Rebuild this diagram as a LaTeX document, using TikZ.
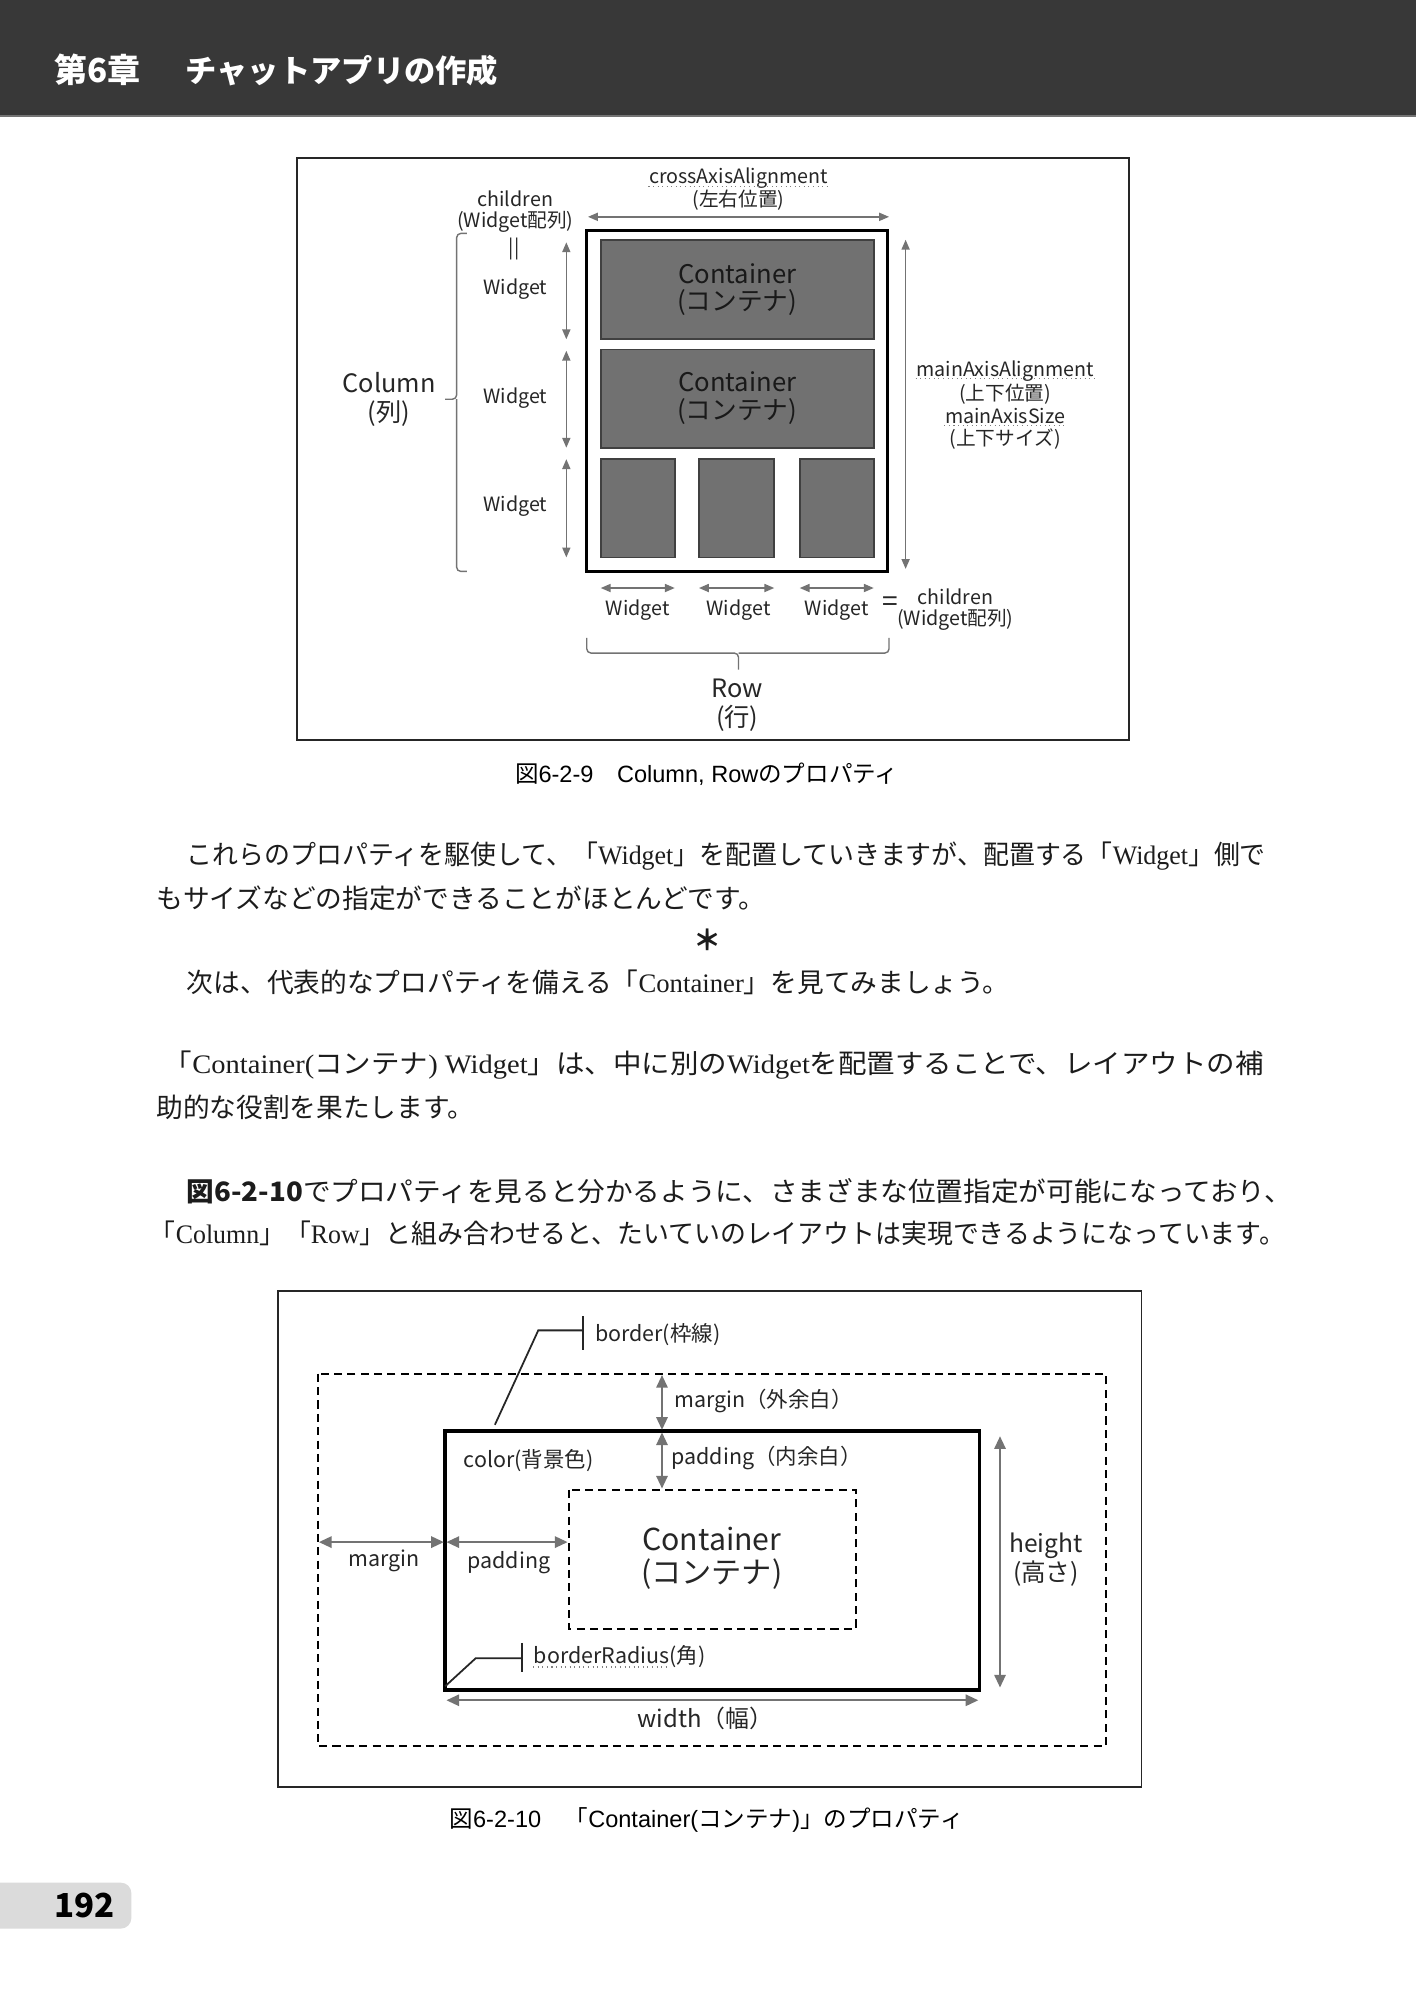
\documentclass[tikz,border=0pt]{standalone}
\usepackage{fontspec}
\usepackage{graphicx}
\setmainfont{Noto Sans CJK JP}
\newfontfamily\latserif{Liberation Serif}
\newfontfamily\latsans{Liberation Sans}
\usetikzlibrary{arrows.meta}

\definecolor{headgray}{HTML}{383838}
\definecolor{boxgray}{HTML}{717171}
\definecolor{inkgray}{HTML}{1C1C1C}
\newcommand\lat[1]{{\latserif #1}}
\newcommand\lsf[1]{{\latsans #1}}

\tikzset{
  figlbl/.style={font=\fontsize{5.6}{6.1}\selectfont, text=black!85, inner sep=0pt, align=center},
  biglbl/.style={font=\fontsize{7.2}{8.4}\selectfont, text=black!85, inner sep=0pt, align=center},
  boxlbl/.style={font=\fontsize{7.3}{7.8}\selectfont, text=black!90, inner sep=0pt, align=center},
  boxlbltwo/.style={font=\fontsize{8.6}{9.4}\selectfont, text=black!85, inner sep=0pt, align=center},
  lbltwo/.style={font=\fontsize{6.1}{7.6}\selectfont, text=black!85, inner sep=0pt, align=center},
  caplbl/.style={font=\fontsize{6.7}{8}\selectfont, text=black, inner sep=0pt},
  bodyline/.style={font=\fontsize{7.6}{9}\selectfont, text=inkgray, inner sep=0pt, anchor=west},
  framebox/.style={draw=black!85, line width=0.5pt},
  cbox/.style={draw=black!75, fill=boxgray, line width=0.5pt},
  dimarrow/.style={draw=black!55, line width=0.4pt, {Triangle[length=2.8pt,width=2.3pt]}-{Triangle[length=2.8pt,width=2.3pt]}},
  dimarrowtwo/.style={draw=black!55, line width=0.6pt, {Triangle[length=3.6pt,width=3.2pt]}-{Triangle[length=3.6pt,width=3.2pt]}},
  bracket/.style={draw=black!55, line width=0.4pt, rounded corners=1.2pt},
  dashbox/.style={draw=black, line width=0.6pt, dash pattern=on 2.3pt off 1.5pt},
  leader/.style={draw=black!85, line width=0.5pt},
  squiggle/.style={draw=black!50, line width=0.3pt, densely dotted},
}

\begin{document}
\begin{tikzpicture}[x=0.0127551cm, y=-0.0127551cm]
\useasboundingbox (0,0) rectangle (1110,1568);
\fill[white] (0,0) rectangle (1110,1568);

% ---------- header ----------
\fill[headgray] (0,0) rectangle (1110,91);
\draw[black!55, line width=0.8pt] (0,91) -- (1110,91);
\node[anchor=west, inner sep=0pt, text=white, font=\bfseries\fontsize{9.4}{10}\selectfont] (chapno) at (42,55) {第6章};
\node[anchor=west, inner sep=0pt, text=white, font=\bfseries\fontsize{8.9}{10}\selectfont] (chaptitle) at (145,55) {チャットアプリの作成};

% ---------- figure 6-2-9 ----------
\draw[framebox] (233,124) rectangle (885,580);

\node[figlbl] (crossen) at (579,140) {crossAxisAlignment};
\node[figlbl] (crossjp) at (579,157) {(左右位置)};
\draw[squiggle] ([yshift=-0.6pt]crossen.base west) -- ([yshift=-0.6pt]crossen.base east);
\coordinate (crossL) at (461,170);
\coordinate (crossR) at (697,170);
\draw[dimarrow] (crossL) -- (crossR);

\node[figlbl] (colchildren) at (404,166) {children\\(Widget配列)};
\node[figlbl] (coleq) at (403,195) {||};

% column bracket
\coordinate (colbtop) at (366,183);
\coordinate (colbmid) at (349,313);
\coordinate (colbbot) at (366,448);
\draw[bracket] (colbtop) -| (358,313) -- (colbmid);
\draw[bracket] (colbbot) -| (358,313);
\node[biglbl] (column) at (305,313) {Column\\(列)};

% widget labels and arrows
\foreach \ya/\yb/\yc [count=\i] in {190/266/227, 275/351/312, 360/437/397} {
  \coordinate (colA\i) at (444,\ya);
  \coordinate (colB\i) at (444,\yb);
  \draw[dimarrow] (colA\i) -- (colB\i);
  \node[figlbl] (colw\i) at (404,\yc) {Widget};
}

% column container and children
\draw[black, line width=0.85pt] (460,181) rectangle (696,448);
\draw[cbox] (471,188) rectangle (685,266);
\draw[cbox] (471,274) rectangle (685,351);
\draw[cbox] (471,360) rectangle (529,437);
\draw[cbox] (548,360) rectangle (607,437);
\draw[cbox] (627,360) rectangle (685,437);
\node[boxlbl] (cont1) at (578,227) {Container\\(コンテナ)};
\node[boxlbl] (cont2) at (578,312) {Container\\(コンテナ)};

% main axis
\coordinate (mainT) at (710,188);
\coordinate (mainB) at (710,446);
\draw[dimarrow] (mainT) -- (mainB);
\node[figlbl] (mainal) at (788,291) {mainAxisAlignment};
\node[figlbl] (mainaljp) at (788,309) {(上下位置)};
\node[figlbl] (mainsz) at (788,326) {mainAxisSize};
\node[figlbl] (mainszjp) at (788,344) {(上下サイズ)};
\draw[squiggle] ([yshift=-0.6pt]mainal.base west) -- ([yshift=-0.6pt]mainal.base east);
\draw[squiggle] ([yshift=-0.6pt]mainsz.base west) -- ([yshift=-0.6pt]mainsz.base east);

% row widgets
\foreach \xa/\xb/\xc [count=\i] in {471/529/500, 548/607/579, 627/685/656} {
  \coordinate (rowA\i) at (\xa,461);
  \coordinate (rowB\i) at (\xb,461);
  \draw[dimarrow] (rowA\i) -- (rowB\i);
  \node[figlbl] (roww\i) at (\xc,478) {Widget};
}
\node[figlbl, font=\fontsize{8}{8}\selectfont] (roweq) at (698,474) {=};
\node[figlbl] (rowchildren) at (749,478) {children\\(Widget配列)};

% row bracket
\coordinate (rowbleft) at (460,500);
\coordinate (rowbmid) at (579,525);
\coordinate (rowbright) at (697,500);
\draw[bracket] (rowbleft) |- (579,512) -- (rowbmid);
\draw[bracket] (rowbright) |- (579,512);
\node[biglbl] (row) at (578,553) {Row\\(行)};

\node[caplbl] (capone) at (554,607) {図\lsf{6-2-9}　\lsf{Column, Row}のプロパティ};

% ---------- body text ----------
\node[bodyline] (lineA) at (146,671) {\resizebox{10.79cm}{\height}{これらのプロパティを駆使して、「\lat{Widget}」を配置していきますが、配置する「\lat{Widget}」側で}};
\node[bodyline] (lineB) at (122,704) {もサイズなどの指定ができることがほとんどです。};
\node[bodyline, anchor=center, font=\bfseries\fontsize{8}{9}\selectfont] (ast) at (555,737) {＊};
\node[bodyline] (lineC) at (146,770) {次は、代表的なプロパティを備える「\lat{Container}」を見てみましょう。};
\node[bodyline] (lineD) at (128,835) {\resizebox{11.0cm}{\height}{「\lat{Container(}コンテナ\lat{) Widget}」は、中に別の\lat{Widget}を配置することで、レイアウトの補}};
\node[bodyline] (lineE) at (122,868) {助的な役割を果たします。};
\node[bodyline] (lineF) at (146,934) {\resizebox{11.05cm}{\height}{{\bfseries 図6-2-10}でプロパティを見ると分かるように、さまざまな位置指定が可能になっており、}};
\node[bodyline] (lineG) at (117,967) {\resizebox{11.35cm}{\height}{「\lat{Column}」「\lat{Row}」と組み合わせると、たいていのレイアウトは実現できるようになっています。}};

% ---------- figure 6-2-10 ----------
\draw[framebox] (218,1012) rectangle (895,1401);
\draw[dashbox] (249,1077) rectangle (867,1369);
\draw[black, line width=1pt] (349,1122) rectangle (768,1325);
\draw[dashbox] (446,1168) rectangle (671,1277);

\node[boxlbltwo] (conttwo) at (558,1222) {Container\\(コンテナ)};

% margin / padding top
\coordinate (mtopA) at (519,1078);
\coordinate (mtopB) at (519,1121);
\coordinate (ptopA) at (519,1123);
\coordinate (ptopB) at (519,1167);
\draw[dimarrowtwo] (mtopA) -- (mtopB);
\draw[dimarrowtwo] (ptopA) -- (ptopB);
\node[lbltwo, anchor=west] (margintop) at (528,1098) {margin（外余白）};
\node[lbltwo, anchor=west] (paddingtop) at (526,1143) {padding（内余白）};
\node[lbltwo, anchor=west] (colorlbl) at (363,1145) {color(背景色)};

% margin / padding left
\coordinate (mleftA) at (250,1209);
\coordinate (mleftB) at (348,1209);
\coordinate (pleftA) at (350,1209);
\coordinate (pleftB) at (445,1209);
\draw[dimarrowtwo] (mleftA) -- (mleftB);
\draw[dimarrowtwo] (pleftA) -- (pleftB);
\node[lbltwo] (marginleft) at (301,1224) {margin};
\node[lbltwo] (paddingleft) at (399,1225) {padding};

% height / width
\coordinate (heightT) at (784,1126);
\coordinate (heightB) at (784,1323);
\draw[dimarrowtwo] (heightT) -- (heightB);
\node[lbltwo, font=\fontsize{7}{8.2}\selectfont] (heightlbl) at (820,1223) {height\\(高さ)};
\coordinate (widthL) at (350,1333);
\coordinate (widthR) at (767,1333);
\draw[dimarrowtwo] (widthL) -- (widthR);
\node[lbltwo, font=\fontsize{6.8}{8}\selectfont] (widthlbl) at (553,1347) {width（幅）};

% leaders
\coordinate (borderfoot) at (388,1117);
\coordinate (borderknee) at (422,1043);
\coordinate (bordertick) at (457,1043);
\draw[leader] (borderfoot) -- (borderknee) -- (bordertick);
\draw[leader] (457,1032) -- (457,1058);
\node[lbltwo, anchor=west] (borderlbl) at (466,1046) {border(枠線)};

\coordinate (radiusfoot) at (349,1322);
\coordinate (radiusknee) at (373,1300);
\coordinate (radiustick) at (409,1300);
\draw[leader] (radiusfoot) -- (radiusknee) -- (radiustick);
\draw[leader] (409,1288) -- (409,1311);
\node[lbltwo, anchor=west] (radiuslbl) at (418,1299) {borderRadius(角)};
\draw[squiggle] ([yshift=-0.9pt]radiuslbl.base west) -- ++(106,0);

\node[caplbl] (captwo) at (554,1427) {図\lsf{6-2-10}　「\lsf{Container(}コンテナ\lsf{)}」のプロパティ};

% ---------- page number ----------
\fill[black!14, rounded corners=3pt] (-10,1476) rectangle (103,1512);
\node[inner sep=0pt, font=\bfseries\fontsize{9.4}{10}\selectfont, text=black] (pageno) at (66,1494) {192};

\end{tikzpicture}
\end{document}
